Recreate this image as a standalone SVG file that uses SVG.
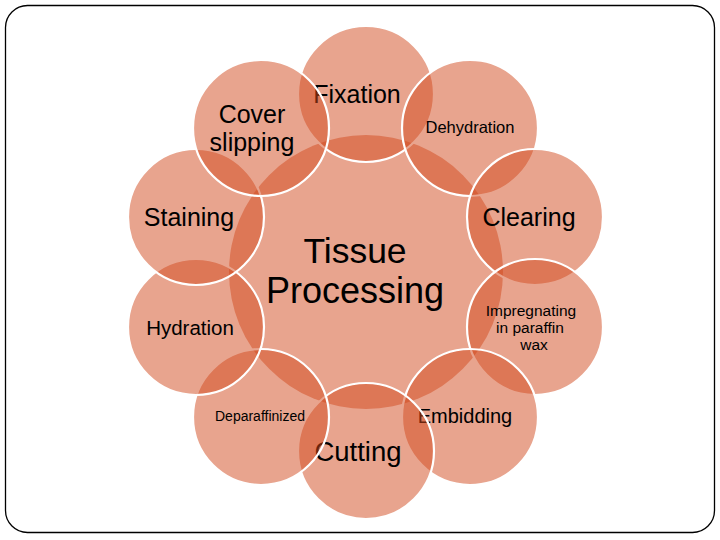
<svg xmlns="http://www.w3.org/2000/svg" width="720" height="540" viewBox="0 0 720 540">
<style>
.c{fill:#D2491E;fill-opacity:0.5}
.s{stroke:#FFFFFF;stroke-width:2.2}
text{font-family:"Liberation Sans",Arial,sans-serif;fill:#000;text-anchor:middle}
</style>
<rect x="0" y="0" width="720" height="540" fill="#FFFFFF"/>
<rect x="5.5" y="5.5" width="709" height="527" rx="22" ry="22" fill="none" stroke="#000" stroke-width="1.3"/>
<g id="center">
<circle class="c" cx="366" cy="272" r="137"/>
<text x="355" y="263" font-size="35.5">Tissue</text>
<text x="355" y="303" font-size="36">Processing</text>
</g>
<g id="fixation">
<circle class="c s" cx="366" cy="94" r="68"/>
<text x="357" y="103" font-size="25">Fixation</text>
</g>
<g id="dehydration">
<circle class="c s" cx="470" cy="128" r="68"/>
<text x="470" y="133" font-size="16.5">Dehydration</text>
</g>
<g id="clearing">
<circle class="c s" cx="535" cy="217" r="68"/>
<text x="529" y="226" font-size="25">Clearing</text>
</g>
<g id="impregnating">
<circle class="c s" cx="535" cy="327" r="68"/>
<text x="531" y="316" font-size="15.5">Impregnating</text>
<text x="530" y="333" font-size="15.5">in paraffin</text>
<text x="534" y="350" font-size="15.5">wax</text>
</g>
<g id="embidding">
<circle class="c s" cx="470" cy="417" r="68"/>
<text x="465" y="423" font-size="20">Embidding</text>
</g>
<g id="cutting">
<circle class="c s" cx="366" cy="451" r="68"/>
<text x="358" y="461" font-size="27.5">Cutting</text>
</g>
<g id="deparaffinized">
<circle class="c s" cx="261" cy="417" r="68"/>
<text x="260" y="421" font-size="14">Deparaffinized</text>
</g>
<g id="hydration">
<circle class="c s" cx="196" cy="327" r="68"/>
<text x="190" y="335" font-size="20.5">Hydration</text>
</g>
<g id="staining">
<circle class="c s" cx="196" cy="217" r="68"/>
<text x="189" y="226" font-size="25">Staining</text>
</g>
<g id="coverslipping">
<circle class="c s" cx="261" cy="128" r="68"/>
<text x="252" y="123" font-size="25">Cover</text>
<text x="252" y="151" font-size="25">slipping</text>
</g>
<g id="connectors"></g>
</svg>
